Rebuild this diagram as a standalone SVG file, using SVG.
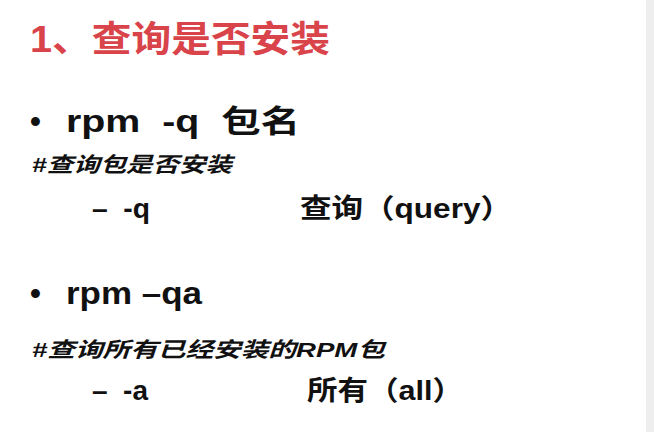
<svg xmlns="http://www.w3.org/2000/svg" width="654" height="432" viewBox="0 0 654 432">
<style>
text{font-family:"Liberation Sans","Noto Sans CJK SC",sans-serif;fill:#111;font-weight:bold}
.t{fill:#d9434a;font-size:36px}
.b{font-size:31px}
.c{font-size:21px;font-style:italic}
.s{font-size:27px}
</style>
<rect width="654" height="432" fill="#fff"/>
<rect x="646" width="8" height="432" fill="#eeeeee"/>
<g id="title"><text class="t" x="30" y="52" textLength="300" lengthAdjust="spacingAndGlyphs">1、查询是否安装</text></g>
<g id="item1">
<text class="b" x="30" y="132">•</text>
<text class="b" x="66" y="132" xml:space="preserve" textLength="234" lengthAdjust="spacingAndGlyphs">rpm  -q  包名</text>
<text class="c" x="32" y="172" textLength="200" lengthAdjust="spacingAndGlyphs">#查询包是否安装</text>
<text class="s" x="92" y="218" xml:space="preserve" textLength="58" lengthAdjust="spacingAndGlyphs">–  -q</text>
<text class="s" x="300" y="218" textLength="212" lengthAdjust="spacingAndGlyphs">查询（query）</text>
</g>
<g id="item2">
<text class="b" x="30" y="304">•</text>
<text class="b" x="66" y="304" textLength="136" lengthAdjust="spacingAndGlyphs">rpm –qa</text>
<text class="c" x="32" y="357" textLength="353" lengthAdjust="spacingAndGlyphs">#查询所有已经安装的RPM包</text>
<text class="s" x="92" y="400" xml:space="preserve" textLength="56" lengthAdjust="spacingAndGlyphs">–  -a</text>
<text class="s" x="307" y="400" textLength="156" lengthAdjust="spacingAndGlyphs">所有（all）</text>
</g>
</svg>
